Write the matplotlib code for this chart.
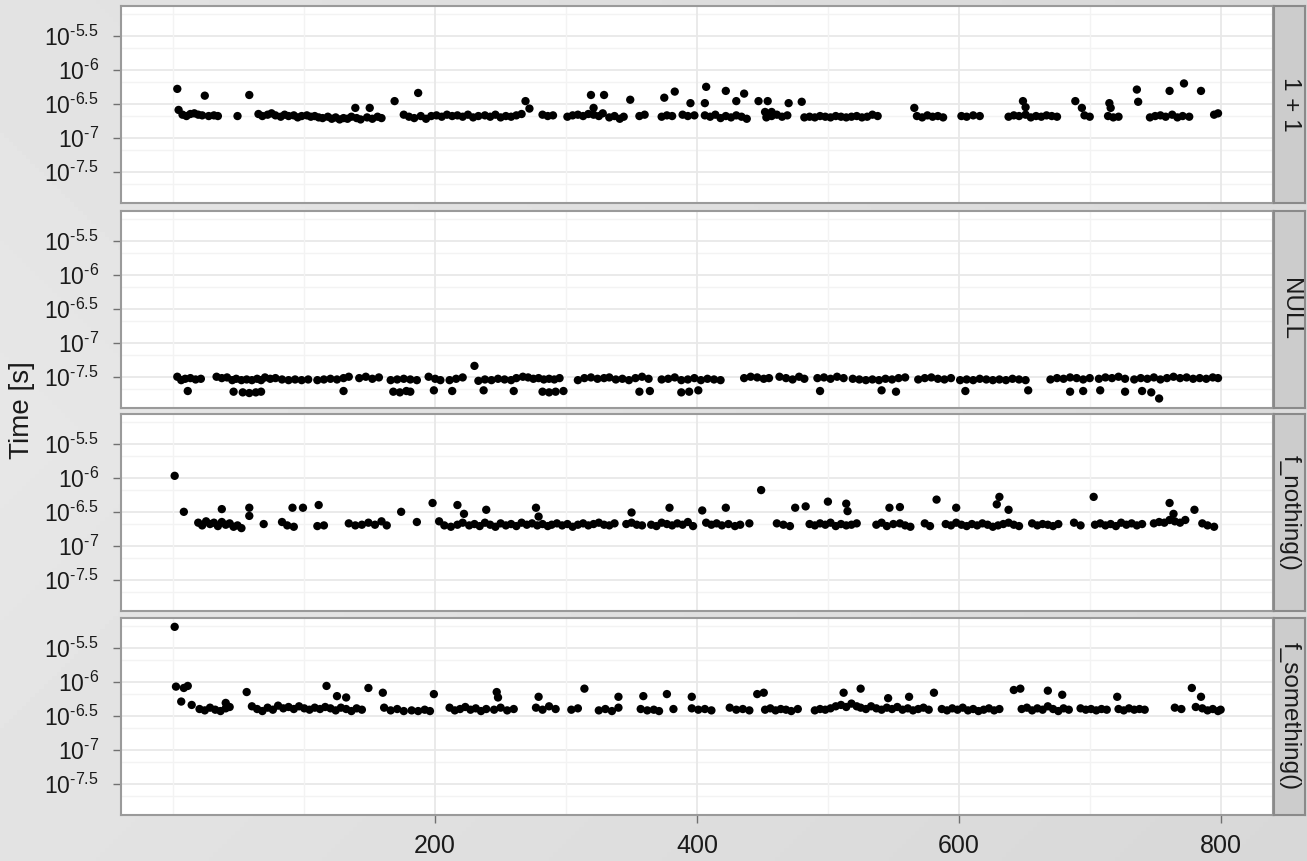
import numpy as np
import matplotlib
matplotlib.use("Agg")
import matplotlib.pyplot as plt
from matplotlib.ticker import FixedLocator

plt.rcParams['font.family'] = ['Liberation Sans', 'DejaVu Sans']
plt.rcParams['mathtext.fontset'] = 'custom'
plt.rcParams['mathtext.rm'] = 'Liberation Sans'
plt.rcParams['mathtext.it'] = 'Liberation Sans'
plt.rcParams['mathtext.bf'] = 'Liberation Sans'

# ---------------- data (x = iteration, lg = log10(time in seconds)) ----------------
panel_labels = ["1 + 1", "NULL", "f_nothing()", "f_something()"]

x_1plus1 = [4, 7, 10, 13, 16, 19, 22, 27, 31, 34, 49,
            65, 68, 72, 75, 78, 82, 85, 88, 92, 95, 98, 102, 105,
            108, 111, 114, 118, 121, 124, 127, 130, 133, 136, 140, 143,
            148, 152, 156, 159, 176, 180, 184, 189, 193,
            197, 201, 205, 209, 213, 217, 221, 225, 229, 233,
            238, 242, 246, 250, 254, 258, 262, 266, 282, 286, 290,
            301, 305, 309, 313, 317, 321, 325, 328, 333, 337, 341, 344,
            356, 360, 373, 377, 381, 389, 393, 398,
            406, 410, 414, 418, 422, 426, 430, 434, 438,
            453, 457, 461, 465, 469,
            482, 486, 490, 494, 498, 502, 506, 510, 514, 518, 522, 526, 530, 534, 538,
            568, 572, 576, 580, 584, 588, 602, 606, 611, 616,
            638, 642, 646, 651, 655, 659, 663, 667, 671, 675, 696, 700, 714, 718, 722,
            746, 750, 754, 758, 763, 767, 771, 776, 795, 798,
            3, 24, 58, 139, 150, 169, 187, 269, 272, 319, 329, 321, 349, 375, 383, 395,
            407, 406, 422, 436, 430, 447, 454, 470, 480, 452, 457, 566, 649, 651, 689,
            694, 715, 716, 736, 737, 761, 772, 785]
lg_1plus1 = [-6.59, -6.66, -6.68, -6.65, -6.64, -6.66, -6.67, -6.68, -6.67, -6.68, -6.68,
             -6.65, -6.68, -6.66, -6.64, -6.67, -6.69, -6.66, -6.68, -6.67, -6.70, -6.68, -6.67, -6.69,
             -6.68, -6.70, -6.71, -6.69, -6.72, -6.70, -6.73, -6.71, -6.72, -6.69, -6.71, -6.73,
             -6.70, -6.72, -6.69, -6.71, -6.66, -6.69, -6.71, -6.68, -6.72,
             -6.68, -6.67, -6.69, -6.66, -6.68, -6.67, -6.69, -6.66, -6.70, -6.68,
             -6.67, -6.69, -6.66, -6.70, -6.68, -6.69, -6.67, -6.65, -6.66, -6.68, -6.67,
             -6.69, -6.67, -6.66, -6.68, -6.65, -6.66, -6.68, -6.64, -6.70, -6.68, -6.72, -6.69,
             -6.68, -6.66, -6.69, -6.67, -6.68, -6.66, -6.68, -6.67,
             -6.67, -6.69, -6.66, -6.71, -6.68, -6.70, -6.67, -6.69, -6.72,
             -6.70, -6.68, -6.66, -6.69, -6.67,
             -6.70, -6.69, -6.70, -6.68, -6.69, -6.70, -6.68, -6.69, -6.70, -6.69, -6.68, -6.70, -6.69, -6.66, -6.68,
             -6.68, -6.70, -6.67, -6.69, -6.68, -6.70, -6.68, -6.69, -6.67, -6.68,
             -6.69, -6.67, -6.68, -6.66, -6.70, -6.68, -6.69, -6.67, -6.68, -6.69, -6.67, -6.69, -6.68, -6.70, -6.69,
             -6.70, -6.68, -6.67, -6.69, -6.66, -6.70, -6.68, -6.69, -6.66, -6.64,
             -6.28, -6.38, -6.37, -6.56, -6.56, -6.46, -6.34, -6.46, -6.57, -6.37, -6.37, -6.56, -6.44, -6.41, -6.32, -6.49,
             -6.25, -6.49, -6.31, -6.35, -6.46, -6.46, -6.46, -6.49, -6.47, -6.62, -6.62, -6.56, -6.46, -6.55, -6.46,
             -6.56, -6.49, -6.56, -6.29, -6.47, -6.31, -6.20, -6.31]

x_null = [3, 6, 9, 13, 17, 21, 33, 37, 41, 45, 48, 52, 56, 60, 64, 67,
          70, 74, 78, 83, 88, 93, 98, 103, 110, 115, 120, 125, 130, 134,
          142, 147, 152, 157, 166, 171, 176, 181, 186, 195, 200, 204, 211, 216, 221,
          233, 238, 243, 248, 253, 258, 262, 267, 271, 275, 279, 283, 287, 291, 295,
          309, 314, 319, 324, 329, 333, 338, 343, 348, 353, 358, 363,
          373, 378, 383, 388, 393, 398, 403, 408, 413, 418,
          436, 441, 446, 451, 455, 463, 468, 473, 478, 482, 492, 497, 502, 507, 512,
          519, 524, 529, 534, 539, 544, 549, 554, 559, 569, 574, 579, 584, 589, 594,
          601, 606, 611, 616, 621, 626, 631, 636, 641, 646, 651,
          670, 675, 680, 685, 690, 695, 700, 707, 712, 717, 722, 727,
          734, 739, 744, 749, 754, 759, 764, 769, 774, 779, 784, 789, 794, 798,
          11, 46, 53, 58, 63, 67, 130, 168, 173, 178, 181, 199, 213, 237, 260, 282, 287, 292, 298,
          356, 364, 388, 394, 401, 494, 541, 552, 605, 653, 685, 695, 708, 727, 740, 747,
          230, 753]
lg_null = [-7.50, -7.55, -7.53, -7.52, -7.54, -7.53, -7.50, -7.52, -7.51, -7.55, -7.53, -7.55, -7.54, -7.55, -7.53, -7.55,
           -7.51, -7.53, -7.52, -7.54, -7.55, -7.54, -7.55, -7.54, -7.55, -7.54, -7.53, -7.54, -7.52, -7.50,
           -7.52, -7.50, -7.53, -7.51, -7.55, -7.54, -7.53, -7.54, -7.55, -7.50, -7.53, -7.55, -7.55, -7.53, -7.51,
           -7.56, -7.54, -7.55, -7.53, -7.54, -7.55, -7.52, -7.50, -7.51, -7.53, -7.52, -7.54, -7.53, -7.54, -7.52,
           -7.55, -7.52, -7.51, -7.53, -7.52, -7.51, -7.54, -7.53, -7.55, -7.52, -7.50, -7.53,
           -7.54, -7.53, -7.51, -7.55, -7.54, -7.52, -7.55, -7.53, -7.54, -7.55,
           -7.52, -7.50, -7.51, -7.53, -7.52, -7.50, -7.52, -7.54, -7.50, -7.53, -7.52, -7.51, -7.53, -7.50, -7.52,
           -7.53, -7.54, -7.55, -7.54, -7.55, -7.53, -7.54, -7.52, -7.51, -7.54, -7.52, -7.51, -7.53, -7.54, -7.52,
           -7.55, -7.54, -7.55, -7.53, -7.54, -7.55, -7.54, -7.55, -7.53, -7.54, -7.55,
           -7.54, -7.52, -7.53, -7.51, -7.52, -7.54, -7.52, -7.53, -7.51, -7.52, -7.50, -7.53,
           -7.54, -7.52, -7.53, -7.51, -7.54, -7.52, -7.50, -7.52, -7.51, -7.53, -7.52, -7.53, -7.51, -7.52,
           -7.71, -7.72, -7.73, -7.74, -7.73, -7.72, -7.71, -7.72, -7.73, -7.71, -7.72, -7.70, -7.71, -7.70, -7.71, -7.72, -7.73, -7.72, -7.71,
           -7.72, -7.71, -7.73, -7.72, -7.70, -7.71, -7.70, -7.72, -7.71, -7.70, -7.72, -7.71, -7.70, -7.72, -7.71, -7.73,
           -7.34, -7.82]

x_fnothing = [19, 22, 25, 28, 31, 34, 37, 40, 43, 46, 49, 52, 69, 83, 87, 92, 110, 115,
              134, 139, 144, 149, 154, 159, 163, 186, 203, 207, 212, 217, 221, 226,
              230, 234, 238, 242, 246, 250, 254, 258, 262, 266, 270, 274, 278, 282, 286, 289,
              293, 297, 301, 305, 309, 313, 317, 321, 325, 329, 333, 337, 346, 350, 354, 358,
              365, 369, 373, 377, 381, 385, 389, 393, 397, 407, 411, 415, 419, 424, 429, 433, 440,
              461, 466, 471, 486, 490, 494, 498, 502, 506, 510, 514, 518, 522,
              537, 541, 545, 550, 555, 559, 563, 574, 578,
              590, 594, 598, 602, 606, 610, 614, 618, 622, 626, 630, 634, 638, 642, 646,
              656, 660, 664, 668, 672, 676, 688, 693,
              704, 708, 712, 716, 720, 724, 728, 732, 736, 740, 749, 753, 757, 761, 765, 769, 773,
              786, 790, 795,
              1, 8, 37, 58, 58, 91, 99, 111, 174, 198, 217, 222, 239, 277, 279, 350, 379, 404, 422,
              449, 475, 483, 500, 514, 515, 547, 555, 583, 598, 629, 631, 638, 703, 761, 780, 764]
lg_fnothing = [-6.66, -6.70, -6.64, -6.68, -6.66, -6.71, -6.65, -6.69, -6.67, -6.72, -6.70, -6.74, -6.68, -6.65, -6.70, -6.72, -6.71, -6.70,
               -6.67, -6.70, -6.69, -6.66, -6.69, -6.64, -6.70, -6.65, -6.64, -6.70, -6.72, -6.69, -6.66, -6.70,
               -6.68, -6.71, -6.66, -6.69, -6.72, -6.67, -6.70, -6.68, -6.71, -6.66, -6.69, -6.67, -6.70, -6.68, -6.71, -6.69,
               -6.67, -6.70, -6.68, -6.72, -6.69, -6.67, -6.70, -6.68, -6.66, -6.69, -6.70, -6.67, -6.68, -6.66, -6.69, -6.70,
               -6.69, -6.71, -6.66, -6.68, -6.70, -6.67, -6.69, -6.65, -6.71, -6.66, -6.69, -6.67, -6.70, -6.68, -6.71, -6.69, -6.67,
               -6.67, -6.69, -6.71, -6.68, -6.70, -6.67, -6.69, -6.66, -6.71, -6.68, -6.70, -6.69, -6.67,
               -6.69, -6.66, -6.71, -6.68, -6.67, -6.70, -6.72, -6.67, -6.71,
               -6.68, -6.70, -6.66, -6.69, -6.71, -6.68, -6.70, -6.67, -6.69, -6.72, -6.70, -6.68, -6.66, -6.69, -6.71,
               -6.67, -6.70, -6.68, -6.69, -6.71, -6.68, -6.66, -6.70,
               -6.69, -6.67, -6.70, -6.68, -6.71, -6.66, -6.69, -6.67, -6.70, -6.68, -6.67, -6.65, -6.66, -6.62, -6.64, -6.66, -6.62,
               -6.67, -6.70, -6.72,
               -5.97, -6.50, -6.46, -6.44, -6.56, -6.44, -6.44, -6.40, -6.50, -6.37, -6.40, -6.53, -6.47, -6.44, -6.57, -6.51, -6.44, -6.48, -6.44,
               -6.18, -6.44, -6.42, -6.35, -6.38, -6.49, -6.44, -6.43, -6.32, -6.44, -6.39, -6.28, -6.47, -6.28, -6.37, -6.47, -6.53]

x_fsomething = [20, 24, 28, 32, 36, 40, 43, 60, 64, 68, 72, 76, 80, 84, 88, 92, 96,
                100, 104, 108, 112, 116, 120, 124, 128, 132, 136, 140, 144,
                161, 166, 171, 176, 182, 187, 192, 196, 211, 215, 219, 223, 227, 231, 235, 239,
                245, 250, 255, 260, 277, 282, 287, 292, 304, 309, 325, 330, 335, 340,
                357, 362, 367, 371, 382, 396, 401, 406, 411, 425, 430, 435, 440,
                452, 456, 460, 464, 468, 472, 477, 490, 494, 498, 502, 506, 510, 514, 518, 522, 525,
                529, 533, 537, 541, 545, 549, 553, 557, 561, 565, 569, 573, 577,
                587, 591, 595, 599, 603, 607, 611, 615, 619, 623, 627, 631,
                648, 652, 656, 660, 664, 668, 672, 676, 680, 684, 693, 697, 701, 705, 709, 713,
                722, 726, 730, 734, 738, 742, 765, 770, 781, 786, 790, 794, 798, 800,
                1, 2, 8, 11, 6, 14, 40, 56, 117, 125, 132, 149, 160, 199, 247, 248, 279, 314, 340, 359, 377, 396,
                446, 451, 512, 525, 546, 562, 581, 642, 647, 668, 679, 721, 778, 785]
lg_fsomething = [-6.40, -6.42, -6.38, -6.41, -6.43, -6.39, -6.37, -6.36, -6.40, -6.43, -6.38, -6.41, -6.35, -6.39, -6.37, -6.40, -6.36,
                 -6.39, -6.41, -6.38, -6.40, -6.37, -6.39, -6.42, -6.38, -6.40, -6.43, -6.39, -6.41,
                 -6.38, -6.42, -6.40, -6.43, -6.42, -6.43, -6.41, -6.43, -6.38, -6.42, -6.40, -6.37, -6.41, -6.39, -6.43, -6.40,
                 -6.41, -6.38, -6.42, -6.40, -6.38, -6.41, -6.36, -6.40, -6.41, -6.39, -6.42, -6.40, -6.43, -6.38,
                 -6.40, -6.42, -6.41, -6.43, -6.40, -6.39, -6.41, -6.40, -6.42, -6.38, -6.41, -6.40, -6.42,
                 -6.41, -6.39, -6.42, -6.40, -6.41, -6.43, -6.40, -6.42, -6.40, -6.41, -6.39, -6.36, -6.34, -6.37, -6.32, -6.36, -6.38,
                 -6.40, -6.36, -6.39, -6.41, -6.38, -6.40, -6.37, -6.41, -6.39, -6.42, -6.40, -6.38, -6.41,
                 -6.40, -6.42, -6.39, -6.41, -6.38, -6.42, -6.40, -6.43, -6.41, -6.39, -6.42, -6.40,
                 -6.40, -6.38, -6.42, -6.39, -6.41, -6.36, -6.40, -6.43, -6.39, -6.41, -6.39, -6.41, -6.40, -6.42, -6.40, -6.41,
                 -6.40, -6.42, -6.39, -6.41, -6.40, -6.41, -6.38, -6.40, -6.37, -6.39, -6.42, -6.40, -6.43, -6.41,
                 -5.19, -6.07, -6.09, -6.06, -6.29, -6.34, -6.31, -6.15, -6.06, -6.21, -6.23, -6.09, -6.16, -6.18, -6.15, -6.23, -6.22, -6.10, -6.22, -6.21, -6.18, -6.22,
                 -6.18, -6.16, -6.16, -6.10, -6.24, -6.22, -6.16, -6.12, -6.10, -6.13, -6.19, -6.22, -6.09, -6.22]

y_tick_exps = [-7.5, -7.0, -6.5, -6.0, -5.5]
y_tick_labels = ["$10^{\u20107.5}$", "$10^{\u20107}$", "$10^{\u20106.5}$", "$10^{\u20106}$", "$10^{\u20105.5}$"]
x_ticks = [200, 400, 600, 800]
x_minor = [0, 100, 300, 500, 700]

series = [(x_1plus1, lg_1plus1), (x_null, lg_null), (x_fnothing, lg_fnothing), (x_fsomething, lg_fsomething)]

# ---------------- figure ----------------
W, H = 1307, 861
fig = plt.figure(figsize=(W / 100, H / 100), dpi=100)

# light grey background
bg = fig.add_axes([0, 0, 1, 1], zorder=-10)
gx = np.linspace(0, 1, 300)
gy = np.linspace(0, 1, 200)
GX, GY = np.meshgrid(gx, gy)
val = 0.905 - 0.045 * GX - 0.03 * np.abs(GY - 0.5)
bg.imshow(val, cmap='gray', vmin=0, vmax=1, aspect='auto', extent=[0, 1, 0, 1])
bg.set_axis_off()

left_px, right_px = 121, 1273
strip_w = 31
tops = [6, 211, 414, 618]
ph = 197

ymin_e, ymax_e = -7.96, -5.06
major_vals = [10 ** e for e in [-8, -7.5, -7, -6.5, -6, -5.5, -5]]
minor_vals = [(major_vals[i] + major_vals[i + 1]) / 2 for i in range(len(major_vals) - 1)]

for i, (xs, lgs) in enumerate(series):
    top = tops[i]
    ax = fig.add_axes([left_px / W, 1 - (top + ph) / H, (right_px - left_px) / W, ph / H])
    ax.set_facecolor('white')
    ax.set_yscale('log')
    ax.set_xlim(-40, 840)
    ax.set_ylim(10 ** ymin_e, 10 ** ymax_e)
    for v in minor_vals:
        ax.axhline(v, color='#f3f3f3', lw=1.0, zorder=0)
    for e in y_tick_exps:
        ax.axhline(10 ** e, color='#e8e8e8', lw=1.3, zorder=0)
    for xv in x_minor:
        ax.axvline(xv, color='#f3f3f3', lw=1.0, zorder=0)
    for xv in x_ticks:
        ax.axvline(xv, color='#e8e8e8', lw=1.3, zorder=0)
    ax.scatter(xs, [10 ** v for v in lgs], s=36, color='black', edgecolors='none', zorder=3)

    ax.yaxis.set_major_locator(FixedLocator([10 ** e for e in y_tick_exps]))
    ax.yaxis.set_minor_locator(FixedLocator([]))
    ax.set_yticklabels(y_tick_labels)
    ax.tick_params(axis='y', which='major', length=6, width=1, color='#707070',
                   labelsize=16.5, labelcolor='#1a1a1a', pad=10)
    ax.set_xticks(x_ticks)
    if i == 3:
        ax.tick_params(axis='x', length=6, width=1, color='#707070',
                       labelsize=18, labelcolor='#1a1a1a', pad=8)
    else:
        ax.tick_params(axis='x', length=0, labelbottom=False)
    for sp in ax.spines.values():
        sp.set_color('#9a9a9a')
        sp.set_linewidth(1.5)

    sax = fig.add_axes([(right_px + 1) / W, 1 - (top + ph) / H, strip_w / W, ph / H])
    sax.set_facecolor('#cccccc')
    sax.set_xticks([])
    sax.set_yticks([])
    for sp in sax.spines.values():
        sp.set_color('#8a8a8a')
        sp.set_linewidth(1.5)
    sax.text(0.5, 0.5, panel_labels[i], rotation=-90, ha='center', va='center',
             fontsize=17.5, color='#1a1a1a', transform=sax.transAxes)

fig.text(22 / W, 1 - 410 / H, 'Time [s]', rotation=90, ha='center', va='center',
         fontsize=20, color='#1a1a1a')

fig.savefig('out.png', dpi=100)
